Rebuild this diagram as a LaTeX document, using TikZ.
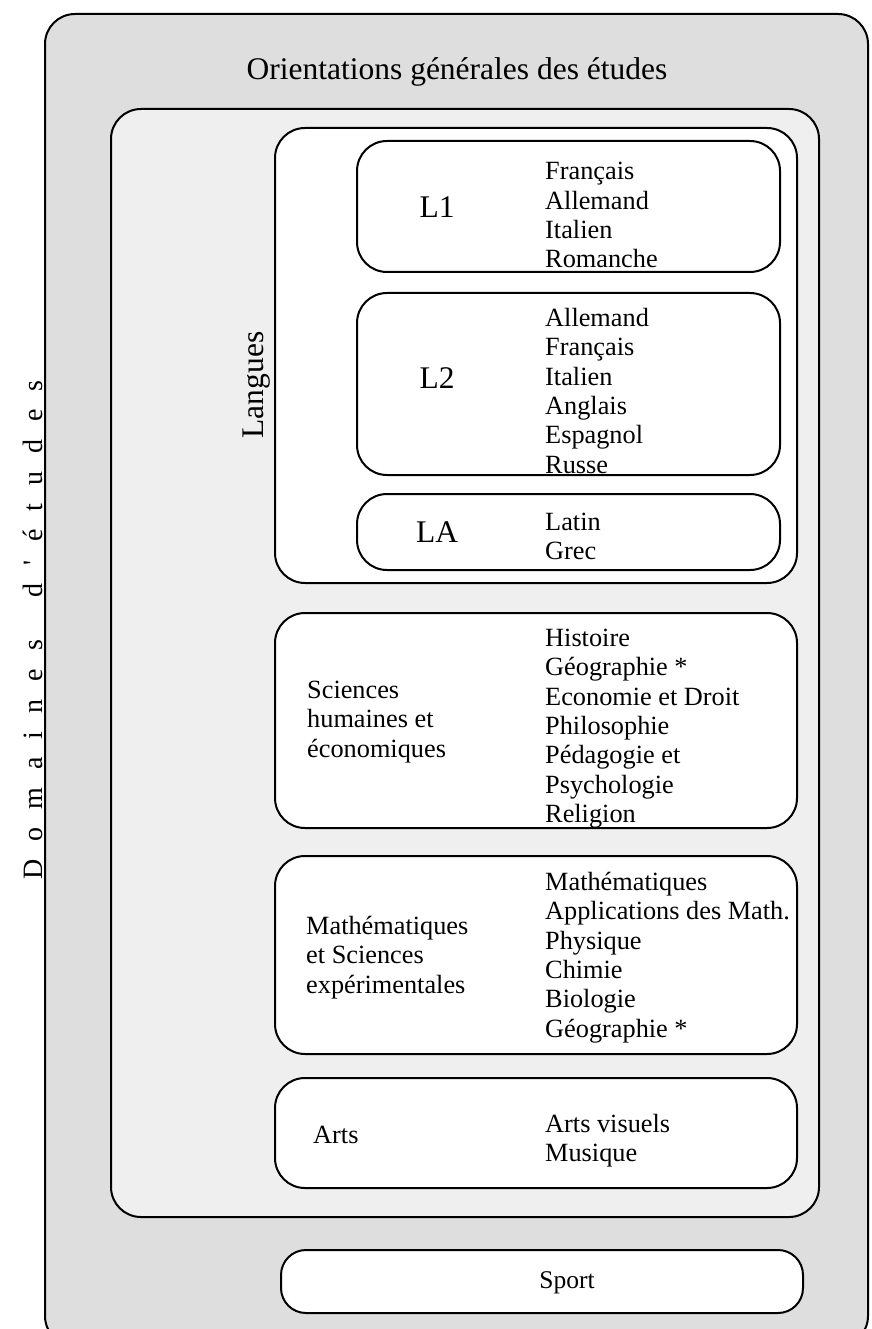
\documentclass[tikz,border=0pt]{standalone}
\usepackage{fontspec}
\setmainfont{Liberation Serif}
\definecolor{outergray}{HTML}{DEDEDE}
\definecolor{midgray}{HTML}{EFEFEF}
\newcommand\gp{\kern18pt}
\newcommand\boxnode[6][]{\node[box,#1,minimum width={#5-#3},minimum height={#6-#4},anchor=north west] (#2) at (#3,#4) {};}
\newcommand\itemlist[4]{\foreach \t [count=\i from 0] in {#4} {\node[item] (#1\i) at (#2,{#3+29.3*\i}) {\t};}}
\begin{document}
\begin{tikzpicture}[x=1pt,y=-1pt,
  box/.style={draw=black, line width=2pt, rounded corners=30pt, inner sep=0pt, fill=white},
  item/.style={font=\fontsize{26.3}{29.3}\selectfont, inner sep=0pt, anchor=base west},
  big/.style={font=\fontsize{31.5}{36}\selectfont, inner sep=0pt, anchor=base}]
\clip (0,0) rectangle (871,1329);
\fill[white] (0,0) rectangle (871,1329);
% boxes
\boxnode[fill=outergray]{outer}{44}{13}{867}{1345}
\boxnode[fill=midgray]{middle}{110}{108}{818}{1216}
\boxnode{langbox}{274}{127}{796}{582}
\boxnode{lone}{356}{140}{779}{271}
\boxnode{ltwo}{356}{292}{779}{474}
\boxnode{la}{356}{493}{779}{569}
\boxnode{sh}{274}{612}{796}{827}
\boxnode{math}{274}{855}{796}{1053}
\boxnode{arts}{274}{1077}{796}{1187}
\boxnode[rounded corners=25pt]{sport}{280}{1249}{802}{1312}
% titles
\node[big] (title) at (457,80) {Orientations générales des études};
\node[big, rotate=90] (langues) at (263,385) {Langues};
\node[font=\fontsize{28}{30}\selectfont, inner sep=0pt, rotate=90, anchor=base] (domaines) at (42,630)
  {D\gp o\gp m\gp a\gp i\gp n\gp e\gp s\gp\ \gp d\gp\textquotesingle\gp é\gp t\gp u\gp d\gp e\gp s};
% language labels
\node[big] (lonelabel) at (437,218) {L1};
\node[big] (ltwolabel) at (437,388) {L2};
\node[big] (lalabel) at (437,542) {LA};
% lists
\itemlist{lonei}{545}{180}{Français,Allemand,Italien,Romanche}
\itemlist{ltwoi}{545}{326.5}{Allemand,Français,Italien,Anglais,Espagnol,Russe}
\itemlist{lai}{545}{530.5}{Latin,Grec}
\itemlist{shi}{545}{646.5}{Histoire,Géographie *,Economie et Droit,Philosophie,Pédagogie et,Psychologie,Religion}
\itemlist{shl}{307}{698.5}{Sciences,humaines et,économiques}
\itemlist{mathi}{545}{890.5}{Mathématiques,Applications des Math.,Physique,Chimie,Biologie,Géographie *}
\itemlist{mathl}{306}{934.5}{Mathématiques,et Sciences,expérimentales}
\itemlist{artsi}{545}{1132.5}{Arts visuels,Musique}
\node[item] (artslabel) at (313,1143.5) {Arts};
\node[item, font=\fontsize{25.5}{29.3}\selectfont, anchor=base] (sportlabel) at (567,1288.5) {Sport};
\end{tikzpicture}
\end{document}
